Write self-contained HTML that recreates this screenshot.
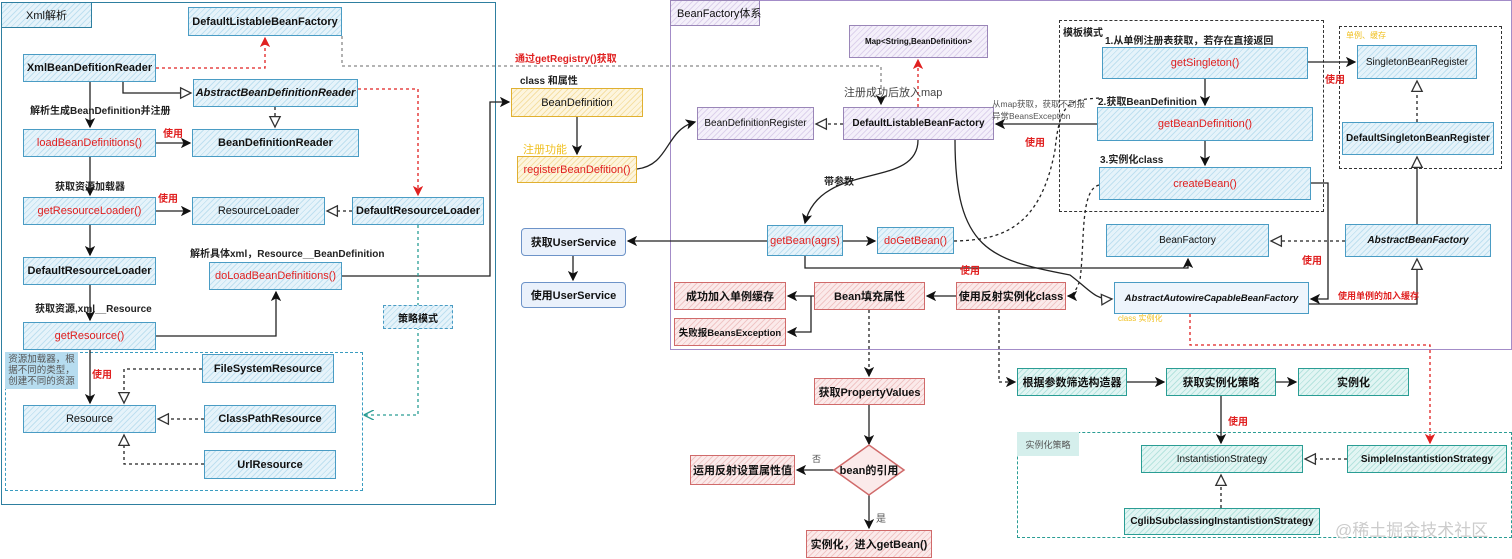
<!DOCTYPE html>
<html><head><meta charset="utf-8">
<style>
body{margin:0;width:1512px;height:559px;background:#fff;position:relative;overflow:hidden;font-family:"Liberation Sans","Noto Sans CJK SC",sans-serif;}
.b{position:absolute;box-sizing:border-box;display:flex;align-items:center;justify-content:center;font-size:11px;color:#111;white-space:nowrap;}
.blue{border:1.5px solid #4a9cc4;background:repeating-linear-gradient(135deg,#e6f3fa 0 3px,#bfe0f0 3px 4px);}
.pur{border:1.5px solid #9a86b8;background:repeating-linear-gradient(135deg,#f4f0fa 0 3px,#ddd2ec 3px 4px);}
.red{border:1.5px solid #d06a6a;background:repeating-linear-gradient(135deg,#fbeaea 0 3px,#f0c6c6 3px 4px);font-weight:bold;}
.yel{border:1.5px solid #e0b030;background:repeating-linear-gradient(135deg,#fdf5de 0 3px,#f5e0a5 3px 4px);}
.teal{border:1.5px solid #2a9d94;background:repeating-linear-gradient(135deg,#e2f5f3 0 3px,#b5e3de 3px 4px);font-weight:bold;}
.lb{border:1.5px solid #6d93c8;background:#eaf1fb;border-radius:4px;font-weight:bold;}
.rt{color:#e02020;}
.bold{font-weight:bold;}
.t{position:absolute;font-size:10px;white-space:nowrap;color:#222;}
.r{color:#e02020;font-weight:bold;}
.y{color:#f0c020;}
</style></head><body>
<div style="position:absolute;left:1px;top:2px;width:495px;height:503px;border:1.5px solid #2e7fa0;box-sizing:border-box"></div>
<div class="b blue" style="left:1px;top:2px;width:91px;height:26px;justify-content:flex-start;padding-left:24px;border-color:#2e7fa0">Xml解析</div>
<div style="position:absolute;left:670px;top:0;width:842px;height:350px;border:1.5px solid #a38cc8;box-sizing:border-box"></div>
<div class="b pur" style="left:670px;top:0;width:90px;height:26px;justify-content:flex-start;padding-left:6px">BeanFactory体系</div>
<div style="position:absolute;left:5px;top:352px;width:358px;height:139px;border:1.5px dashed #3a9cc0;box-sizing:border-box"></div>
<div class="b" style="left:5px;top:352px;width:73px;height:37px;background:#b6dcef;font-size:9.5px;white-space:normal;text-align:center;line-height:11px;color:#555">资源加载器，根据不同的类型，创建不同的资源</div>
<div style="position:absolute;left:1059px;top:20px;width:265px;height:192px;border:1.5px dashed #333;box-sizing:border-box"></div>
<div style="position:absolute;left:1339px;top:26px;width:163px;height:143px;border:1.5px dashed #333;box-sizing:border-box"></div>
<div style="position:absolute;left:1017px;top:432px;width:495px;height:106px;border:1.5px dashed #2a9d94;box-sizing:border-box"></div>
<div class="b" style="left:1017px;top:432px;width:62px;height:24px;background:#d5efec;font-size:9px;color:#555">实例化策略</div>

<svg width="1512" height="559" style="position:absolute;left:0;top:0">
<defs>
<marker id="a" markerWidth="8" markerHeight="8" refX="7" refY="4" orient="auto"><path d="M0,0L8,4L0,8L2,4z" fill="#111"/></marker>
<marker id="ar" markerWidth="8" markerHeight="8" refX="7" refY="4" orient="auto"><path d="M0,0L8,4L0,8L2,4z" fill="#e02020"/></marker>
<marker id="at" markerWidth="8" markerHeight="8" refX="7" refY="4" orient="auto"><path d="M0,0L8,4L0,8" fill="none" stroke="#2a9d94"/></marker>
<marker id="o" markerWidth="10" markerHeight="10" refX="9" refY="5" orient="auto"><path d="M1,1L9,5L1,9z" fill="#fff" stroke="#333"/></marker>
</defs>
<g fill="none" stroke="#222" stroke-width="1.3">
<path d="M90 82V127" marker-end="url(#a)"/>
<path d="M90 157V195" marker-end="url(#a)"/>
<path d="M90 225V255" marker-end="url(#a)"/>
<path d="M90 285V320" marker-end="url(#a)"/>
<path d="M90 350V403" marker-end="url(#a)"/>
<path d="M156 143H190" marker-end="url(#a)"/>
<path d="M156 211H190" marker-end="url(#a)"/>
<path d="M123 82V93H191" marker-end="url(#o)"/>
<path d="M275 107V127" stroke-dasharray="3 3" marker-end="url(#o)"/>
<path d="M352 211H327" stroke-dasharray="3 3" marker-end="url(#o)"/>
<path d="M156 336H276V292" marker-end="url(#a)"/>
<path d="M342 276H490V102H509" marker-end="url(#a)"/>
<path d="M202 369H124V403" stroke-dasharray="3 3" marker-end="url(#o)"/>
<path d="M204 419H158" stroke-dasharray="3 3" marker-end="url(#o)"/>
<path d="M204 464H124V435" stroke-dasharray="3 3" marker-end="url(#o)"/>
<path d="M577 117V154" marker-end="url(#a)"/>
<path d="M637 169C670 165 665 130 695 122" marker-end="url(#a)"/>
<path d="M573 256V280" marker-end="url(#a)"/>
<path d="M767 241H628" marker-end="url(#a)"/>
<path d="M843 241H875" marker-end="url(#a)"/>
<path d="M805 256V268H1188V259" marker-end="url(#a)"/>
<path d="M918 140C918 190 820 160 805 223" marker-end="url(#a)"/>
<path d="M955 140C955 250 990 260 1070 275C1090 290 1095 300 1112 299" marker-end="url(#o)"/>
<path d="M843 124H816" stroke-dasharray="3 3" marker-end="url(#o)"/>
<path d="M1097 124H996" marker-end="url(#a)"/>
<path d="M954 241C1000 240 1040 230 1055 150C1060 100 1070 100 1100 98" stroke-dasharray="3 3"/>
<path d="M1308 62H1355" marker-end="url(#a)"/>
<path d="M1205 79V105" marker-end="url(#a)"/>
<path d="M1205 141V165" marker-end="url(#a)"/>
<path d="M1417 122V81" stroke-dasharray="3 3" marker-end="url(#o)"/>
<path d="M1417 224V157" marker-end="url(#o)"/>
<path d="M1345 241H1271" stroke-dasharray="3 3" marker-end="url(#o)"/>
<path d="M1309 304H1417V259" marker-end="url(#o)"/>
<path d="M1311 183H1328V299H1311" marker-end="url(#a)"/>
<path d="M1099 185C1080 190 1085 240 1080 280C1075 295 1070 296 1068 296" stroke-dasharray="3 3" marker-end="url(#a)"/>
<path d="M956 296H927" marker-end="url(#a)"/>
<path d="M814 296H811V296H788" marker-end="url(#a)"/>
<path d="M811 296V332H788" marker-end="url(#a)"/>
<path d="M869 310V376" stroke-dasharray="3 3" marker-end="url(#a)"/>
<path d="M869 405V444" marker-end="url(#a)"/>
<path d="M834 470H797" marker-end="url(#a)"/>
<path d="M869 495V528" marker-end="url(#a)"/>
<path d="M999 310V382H1015" stroke-dasharray="3 3" marker-end="url(#a)"/>
<path d="M1127 382H1164" marker-end="url(#a)"/>
<path d="M1276 382H1296" marker-end="url(#a)"/>
<path d="M1221 396V443" marker-end="url(#a)"/>
<path d="M1347 459H1305" stroke-dasharray="3 3" marker-end="url(#o)"/>
<path d="M1221 508V475" stroke-dasharray="3 3" marker-end="url(#o)"/>
<path d="M342 36V66H881V104" stroke="#888" stroke-dasharray="3 3" marker-end="url(#a)"/>
</g>
<g fill="none" stroke="#e02020" stroke-width="1.3" stroke-dasharray="3 3">
<path d="M156 68H265V38" marker-end="url(#ar)"/>
<path d="M358 89H418V195" marker-end="url(#ar)"/>
<path d="M918 107V60" marker-end="url(#ar)"/>
<path d="M1190 314V345H1430V443" marker-end="url(#ar)"/>
</g>
<g fill="none" stroke="#2a9d94" stroke-width="1.3" stroke-dasharray="3 3">
<path d="M418 225V415H365" marker-end="url(#at)"/>
</g>
<polygon points="869,445 904,470 869,495 834,470" fill="#fbeaea" stroke="#d06a6a" stroke-width="1.5"/>
</svg>

<div class="b blue bold" style="left:188px;top:7px;width:154px;height:29px">DefaultListableBeanFactory</div>
<div class="b blue bold" style="left:23px;top:54px;width:133px;height:28px">XmlBeanDefitionReader</div>
<div class="b blue bold" style="left:193px;top:79px;width:165px;height:28px;font-style:italic">AbstractBeanDefinitionReader</div>
<div class="b blue rt" style="left:23px;top:129px;width:133px;height:28px">loadBeanDefinitions()</div>
<div class="b blue bold" style="left:192px;top:129px;width:167px;height:28px">BeanDefinitionReader</div>
<div class="b blue rt" style="left:23px;top:197px;width:133px;height:28px">getResourceLoader()</div>
<div class="b blue" style="left:192px;top:197px;width:133px;height:28px">ResourceLoader</div>
<div class="b blue bold" style="left:352px;top:197px;width:132px;height:28px">DefaultResourceLoader</div>
<div class="b blue bold" style="left:23px;top:257px;width:133px;height:28px">DefaultResourceLoader</div>
<div class="b blue rt" style="left:209px;top:262px;width:133px;height:28px">doLoadBeanDefinitions()</div>
<div class="b blue rt" style="left:23px;top:322px;width:133px;height:28px">getResource()</div>
<div class="b blue bold" style="left:383px;top:305px;width:70px;height:24px;border-style:dashed;font-size:10px">策略模式</div>
<div class="b blue bold" style="left:202px;top:354px;width:132px;height:29px">FileSystemResource</div>
<div class="b blue" style="left:23px;top:405px;width:133px;height:28px">Resource</div>
<div class="b blue bold" style="left:204px;top:405px;width:132px;height:28px">ClassPathResource</div>
<div class="b blue bold" style="left:204px;top:450px;width:132px;height:29px">UrlResource</div>
<div class="t bold" style="left:30px;top:102px">解析生成BeanDefinition并注册</div>
<div class="t r" style="left:163px;top:125px">使用</div>
<div class="t bold" style="left:55px;top:178px">获取资源加载器</div>
<div class="t r" style="left:158px;top:190px">使用</div>
<div class="t bold" style="left:190px;top:245px">解析具体xml，Resource__BeanDefinition</div>
<div class="t bold" style="left:35px;top:300px">获取资源,xml__Resource</div>
<div class="t r" style="left:92px;top:366px">使用</div>

<div class="t r" style="left:515px;top:50px">通过getRegistry()获取</div>
<div class="t bold" style="left:520px;top:72px">class 和属性</div>
<div class="b yel" style="left:511px;top:88px;width:132px;height:29px">BeanDefinition</div>
<div class="t y" style="left:523px;top:141px;font-size:11px">注册功能</div>
<div class="b yel rt" style="left:517px;top:156px;width:120px;height:27px">registerBeanDefition()</div>
<div class="b lb" style="left:521px;top:228px;width:105px;height:28px">获取UserService</div>
<div class="b lb" style="left:521px;top:282px;width:105px;height:26px">使用UserService</div>

<div class="b pur bold" style="left:849px;top:25px;width:139px;height:33px;font-size:8px">Map&lt;String,BeanDefinition&gt;</div>
<div class="t" style="left:844px;top:84px;font-size:11px;color:#444">注册成功后放入map</div>
<div class="b pur" style="left:697px;top:107px;width:117px;height:33px;font-size:10px">BeanDefinitionRegister</div>
<div class="b pur bold" style="left:843px;top:107px;width:151px;height:33px;font-size:10px">DefaultListableBeanFactory</div>
<div class="t" style="left:992px;top:98px;font-size:8.5px;color:#555;line-height:12px">从map获取，获取不到报<br>异常BeansException</div>
<div class="t r" style="left:1025px;top:134px">使用</div>
<div class="t bold" style="left:1063px;top:24px">模板模式</div>
<div class="t bold" style="left:1105px;top:32px">1.从单例注册表获取，若存在直接返回</div>
<div class="b blue rt" style="left:1102px;top:47px;width:206px;height:32px">getSingleton()</div>
<div class="t bold" style="left:1098px;top:93px">2.获取BeanDefinition</div>
<div class="b blue rt" style="left:1097px;top:107px;width:216px;height:34px">getBeanDefinition()</div>
<div class="t bold" style="left:1100px;top:151px">3.实例化class</div>
<div class="b blue rt" style="left:1099px;top:167px;width:212px;height:33px">createBean()</div>
<div class="t y" style="left:1346px;top:30px;font-size:8px">单例、缓存</div>
<div class="b blue" style="left:1357px;top:45px;width:120px;height:34px;font-size:10px">SingletonBeanRegister</div>
<div class="b blue bold" style="left:1342px;top:122px;width:152px;height:33px;font-size:10px">DefaultSingletonBeanRegister</div>
<div class="t r" style="left:1325px;top:71px">使用</div>
<div class="b blue" style="left:1106px;top:224px;width:163px;height:33px;font-size:10px">BeanFactory</div>
<div class="b blue bold" style="left:1345px;top:224px;width:146px;height:33px;font-style:italic;font-size:10px">AbstractBeanFactory</div>
<div class="t r" style="left:1302px;top:252px">使用</div>
<div class="b blue bold" style="left:1114px;top:282px;width:195px;height:32px;font-style:italic;font-size:9.5px;background:#eef5fc">AbstractAutowireCapableBeanFactory</div>
<div class="t r" style="left:1338px;top:289px;font-size:9px">使用单例的加入缓存</div>
<div class="t y" style="left:1118px;top:313px;font-size:8px">class 实例化</div>
<div class="b blue rt" style="left:767px;top:225px;width:76px;height:31px">getBean(agrs)</div>
<div class="b blue rt" style="left:877px;top:227px;width:77px;height:27px">doGetBean()</div>
<div class="t bold" style="left:824px;top:173px">带参数</div>
<div class="t r" style="left:960px;top:262px">使用</div>
<div class="b red" style="left:674px;top:282px;width:112px;height:28px">成功加入单例缓存</div>
<div class="b red" style="left:674px;top:318px;width:112px;height:28px;font-size:9.5px">失败报BeansException</div>
<div class="b red" style="left:814px;top:282px;width:111px;height:28px">Bean填充属性</div>
<div class="b red" style="left:956px;top:282px;width:110px;height:28px">使用反射实例化class</div>
<div class="b red" style="left:814px;top:378px;width:111px;height:27px">获取PropertyValues</div>
<div class="b" style="left:834px;top:460px;width:70px;height:20px;font-weight:bold">bean的引用</div>
<div class="t" style="left:812px;top:452px;font-size:9px;color:#555">否</div>
<div class="t" style="left:876px;top:510px;color:#555">是</div>
<div class="b red" style="left:690px;top:455px;width:105px;height:30px">运用反射设置属性值</div>
<div class="b red" style="left:806px;top:530px;width:126px;height:28px">实例化，进入getBean()</div>
<div class="b teal" style="left:1017px;top:368px;width:110px;height:28px">根据参数筛选构造器</div>
<div class="b teal" style="left:1166px;top:368px;width:110px;height:28px">获取实例化策略</div>
<div class="b teal" style="left:1298px;top:368px;width:111px;height:28px">实例化</div>
<div class="t r" style="left:1228px;top:413px">使用</div>
<div class="b teal" style="left:1141px;top:445px;width:162px;height:28px;font-weight:normal;font-size:10px">InstantistionStrategy</div>
<div class="b teal" style="left:1347px;top:445px;width:160px;height:28px;font-size:10px">SimpleInstantistionStrategy</div>
<div class="b teal" style="left:1124px;top:508px;width:196px;height:27px;font-size:10px">CglibSubclassingInstantistionStrategy</div>
<div class="t" style="left:1335px;top:516px;font-size:17px;color:#ccc">@稀土掘金技术社区</div>
</body></html>
